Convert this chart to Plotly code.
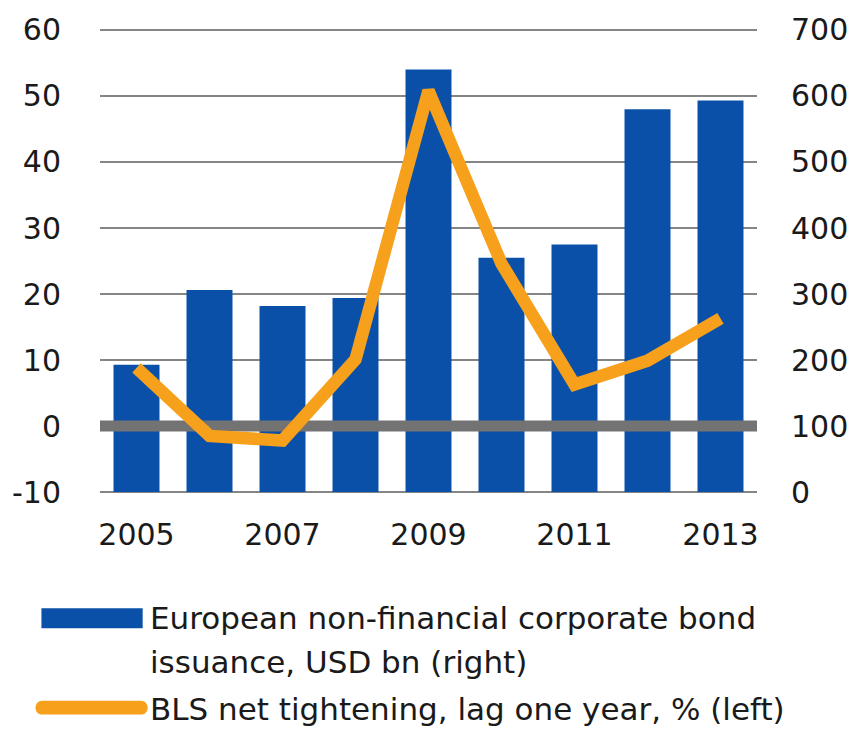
import plotly.graph_objects as go

# ---- data ----
years = [2005, 2006, 2007, 2008, 2009, 2010, 2011, 2012, 2013]
issuance_usd_bn = [193, 306, 282, 294, 640, 355, 375, 580, 593]   # right axis
bls_net_tightening = [8.8, -1.5, -2.2, 10.1, 50.8, 24.6, 6.3, 9.9, 16.3]  # left axis
year_ticks = [2005, 2007, 2009, 2011, 2013]
left_ticks = [-10, 0, 10, 20, 30, 40, 50, 60]
right_ticks = [0, 100, 200, 300, 400, 500, 600, 700]
legend_labels = [
    "European non-financial corporate bond",
    "issuance, USD bn (right)",
    "BLS net tightening, lag one year, % (left)",
]

BLUE = "#0A50A8"
ORANGE = "#F6A01C"
GREY = "#737373"
GRID = "#858585"
FONT = "DejaVu Sans"
TXT = "#1a1a1a"

W, H = 860, 731
L, R, T, B = 100, 98, 25, 237
PW, PH = W - L - R, H - T - B

# a little padding so the gridlines at both ends of the scale are drawn
pad_r = 3.0
pad_l = pad_r * 70 / 700


def px(x):
    return (x - L) / PW


def py(y):
    return (H - B - y) / PH


fig = go.Figure()

# bars on the primary (right-hand) axis so the overlay traces sit above them
fig.add_trace(go.Bar(
    x=years, y=issuance_usd_bn, yaxis="y",
    marker=dict(color=BLUE, line=dict(width=0)),
    width=0.63, showlegend=False, name=legend_labels[0],
))

# zero reference line of the left axis, above the bars
fig.add_trace(go.Scatter(
    x=[years[0] - 0.5, years[-1] + 0.5], y=[0, 0], yaxis="y2",
    mode="lines", line=dict(color=GREY, width=11),
    hoverinfo="skip", showlegend=False,
))

fig.add_trace(go.Scatter(
    x=years, y=bls_net_tightening, yaxis="y2",
    mode="lines", line=dict(color=ORANGE, width=12.5),
    showlegend=False, name=legend_labels[2],
))

tickfont = dict(family=FONT, size=30, color=TXT)

fig.update_layout(
    width=W, height=H,
    margin=dict(l=L, r=R, t=T, b=B, pad=0),
    paper_bgcolor="white", plot_bgcolor="white",
    showlegend=False,
    xaxis=dict(
        range=[years[0] - 0.5, years[-1] + 0.5],
        tickvals=year_ticks, ticktext=[str(v) for v in year_ticks],
        showgrid=False, zeroline=False, showline=False, ticks="",
        tickfont=tickfont, ticklabelstandoff=20,
    ),
    yaxis=dict(
        side="right", range=[-pad_r, 700 + pad_r], tickvals=right_ticks,
        ticktext=[str(v) for v in right_ticks],
        showgrid=True, gridcolor=GRID, gridwidth=1.5,
        zeroline=False, showline=False, ticks="",
        tickfont=tickfont, ticklabelstandoff=33,
    ),
    yaxis2=dict(
        side="left", overlaying="y", range=[-10 - pad_l, 60 + pad_l],
        tickvals=left_ticks,
        ticktext=[str(v) for v in left_ticks],
        showgrid=False, zeroline=False, showline=False, ticks="",
        tickfont=tickfont, ticklabelstandoff=38,
    ),
)

# ---- legend drawn below the chart ----
fig.add_shape(
    type="rect", xref="paper", yref="paper",
    x0=px(41), x1=px(143), y0=py(629), y1=py(609),
    fillcolor=BLUE, line=dict(width=0),
)

# orange swatch with rounded ends
r = 7.0
cy = 709.0
xa, xb = 42.0, 141.0
k = 4.0 / 3.0 * r
path = (
    f"M {px(xa)},{py(cy - r)} L {px(xb)},{py(cy - r)} "
    f"C {px(xb + k)},{py(cy - r)} {px(xb + k)},{py(cy + r)} {px(xb)},{py(cy + r)} "
    f"L {px(xa)},{py(cy + r)} "
    f"C {px(xa - k)},{py(cy + r)} {px(xa - k)},{py(cy - r)} {px(xa)},{py(cy - r)} Z"
)
fig.add_shape(type="path", xref="paper", yref="paper", path=path,
              fillcolor=ORANGE, line=dict(width=0))

for text, yc in zip(legend_labels, [619, 663, 710]):
    fig.add_annotation(
        text=text, xref="paper", yref="paper",
        x=px(148), y=py(yc), xanchor="left", yanchor="middle",
        showarrow=False, font=dict(family=FONT, size=31, color=TXT),
    )

fig.write_html("out.html")
